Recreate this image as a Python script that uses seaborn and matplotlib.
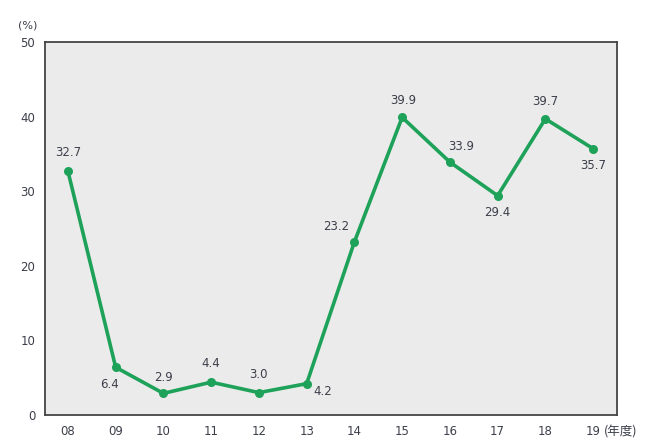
import matplotlib
matplotlib.use("Agg")
import matplotlib.pyplot as plt
import seaborn as sns
import pandas as pd

years = ["08", "09", "10", "11", "12", "13", "14", "15", "16", "17", "18", "19"]
values = [32.7, 6.4, 2.9, 4.4, 3.0, 4.2, 23.2, 39.9, 33.9, 29.4, 39.7, 35.7]
value_labels = ["32.7", "6.4", "2.9", "4.4", "3.0", "4.2", "23.2", "39.9", "33.9", "29.4", "39.7", "35.7"]
y_ticks = [0, 10, 20, 30, 40, 50]

sns.set_theme(style="white")
plt.rcParams['font.family'] = ['DejaVu Sans', 'Noto Sans CJK JP']

df = pd.DataFrame({"x": range(len(years)), "v": values})

fig = plt.figure(figsize=(6.5, 4.4), dpi=100)
ax = fig.add_axes([45/650, 1-415/440, (617-45)/650, (415-42)/440])
ax.set_facecolor("#ebebeb")

green = "#1ea25a"
sns.lineplot(data=df, x="x", y="v", ax=ax, color=green, linewidth=2.6,
             marker="o", markersize=6.5, markeredgewidth=0, markerfacecolor=green)

offsets = [(0, 19), (-6, -17), (0, 16), (0, 19), (0, 18), (16, -8),
           (-18, 15), (1, 17), (11, 16), (0, -17), (0, 17), (0, -17)]
txtcol = "#3c3f4a"
for i, (v, lab, off) in enumerate(zip(values, value_labels, offsets)):
    ax.annotate(lab, (i, v), xytext=off, textcoords="offset pixels",
                ha="center", va="center", fontsize=8.5, color=txtcol)

ax.set_xlim(-0.48, 11.5)
ax.set_ylim(0, 50)
ax.set_xticks(range(len(years)))
ax.set_xticklabels(years)
ax.set_yticks(y_ticks)
ax.set_yticklabels([str(t) for t in y_ticks])
ax.tick_params(axis="both", direction="in", length=4, width=1, color="#444444",
               labelsize=8.5, labelcolor=txtcol, pad=7)
ax.set_xlabel("")
ax.set_ylabel("")
for s in ax.spines.values():
    s.set_visible(True)
    s.set_color("#444444")
    s.set_linewidth(1.3)

fig.text(28/650, 1-25/440, "(%)", ha="center", va="center", fontsize=8, color=txtcol)
fig.text(604/650, 1-432/440, "(年度)", ha="left", va="center", fontsize=9, color=txtcol,
         family=['Noto Sans CJK JP', 'DejaVu Sans'])

fig.savefig("out.png", dpi=100)
